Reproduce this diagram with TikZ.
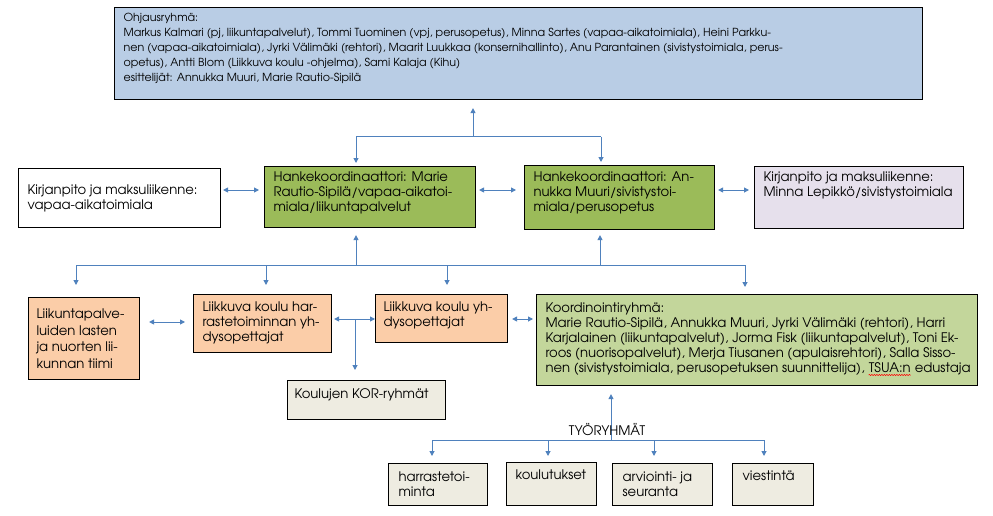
\documentclass[tikz,border=0pt]{standalone}
\usepackage{fontspec}
\setmainfont{texgyreadventor-regular.otf}
\usetikzlibrary{arrows.meta,decorations.pathmorphing}
\definecolor{cTop}{HTML}{B9CDE5}
\definecolor{cGreen}{HTML}{9BBB59}
\definecolor{cLav}{HTML}{E6E0EC}
\definecolor{cOrange}{HTML}{FBCDA8}
\definecolor{cKoord}{HTML}{C3D69B}
\definecolor{cTan}{HTML}{EEECE1}
\definecolor{cLine}{HTML}{4F81BD}
\newcommand\rwave[1]{\tikz[baseline=(w.base),x=1pt,y=1pt]{\node[inner sep=0pt,anchor=base](w){#1};\draw[red,line width=0.5pt,decorate,decoration={snake,amplitude=0.6pt,segment length=2.5pt}] ([yshift=-2.5pt]w.base west) -- ([yshift=-2.5pt]w.base east);}}
\newcommand\bt[5]{\parbox[c][#2pt][t]{#1pt}{\vspace*{#4pt}\raggedright\leftskip=#3pt\rightskip=-40pt plus 1fil\parindent=0pt\hyphenpenalty=10000\strut #5}}
\tikzset{
  box/.style={draw=black, line width=1.1pt, anchor=north west, inner sep=0pt,
    font=\fontsize{13.2}{15}\selectfont},
  ln/.style={draw=cLine, line width=1pt},
  arr/.style={ln, -{Triangle[length=5pt,width=5pt]}},
  darr/.style={ln, {Triangle[length=5pt,width=5pt]}-{Triangle[length=5pt,width=5pt]}}
}
\begin{document}
\begin{tikzpicture}[x=1pt,y=-1pt]
\useasboundingbox[fill=white] (0,0) rectangle (993,516);
% boxes
\node[box, fill=cTop, font=\fontsize{11.1}{15}\selectfont] (top) at (114,7) {\bt{808}{92}{9}{3.5}{Ohjausryhmä:\\
Markus Kalmari (pj, liikuntapalvelut), Tommi Tuominen (vpj, perusopetus), Minna Sartes (vapaa-aikatoimiala), Heini Parkku-\\
nen (vapaa-aikatoimiala), Jyrki Välimäki (rehtori), Maarit Luukkaa (konsernihallinto), Anu Parantainen (sivistystoimiala, perus-\\
opetus), Antti Blom (Liikkuva koulu -ohjelma), Sami Kalaja (Kihu)\\
esittelijät: Annukka Muuri, Marie Rautio-Sipilä}};
\node[box, fill=white] (kirj1) at (18,168) {\bt{202}{59}{9}{15}{Kirjanpito ja maksuliikenne:\\ vapaa-aikatoimiala}};
\node[box, fill=cGreen] (green1) at (264,166) {\bt{211}{61}{9}{4.5}{Hankekoordinaattori: Marie\\ Rautio-Sipilä/vapaa-aikatoi-\\ miala/liikuntapalvelut}};
\node[box, fill=cGreen] (green2) at (524,165) {\bt{190}{64}{9}{5.5}{Hankekoordinaattori: An-\\ nukka Muuri/sivistystoi-\\ miala/perusopetus}};
\node[box, fill=cLav] (lav) at (754,166) {\bt{209}{62}{9}{4.5}{Kirjanpito ja maksuliikenne:\\ Minna Lepikkö/sivistystoimiala}};
\node[box, fill=cOrange, font=\fontsize{13.2}{16.5}\selectfont] (liik) at (28,297) {\bt{111}{82}{8}{9.5}{Liikuntapalve-\\ luiden lasten\\ ja nuorten lii-\\ kunnan tiimi}};
\node[box, fill=cOrange] (har) at (193,294) {\bt{138}{58}{9}{6.5}{Liikkuva koulu har-\\ rastetoiminnan yh-\\ dysopettajat}};
\node[box, fill=cOrange] (yh) at (375,294) {\bt{132}{48}{8}{6.5}{Liikkuva koulu yh-\\ dysopettajat}};
\node[box, fill=cKoord] (koord) at (536,294) {\bt{441}{91}{9}{7.5}{Koordinointiryhmä:\\
Marie Rautio-Sipilä, Annukka Muuri, Jyrki Välimäki (rehtori), Harri\\
Karjalainen (liikuntapalvelut), Jorma Fisk (liikuntapalvelut), Toni Ek-\\
roos (nuorisopalvelut), Merja Tiusanen (apulaisrehtori), Salla Sisso-\\
nen (sivistystoimiala, perusopetuksen suunnittelija), \rwave{TSUA:n} edustaja}};
\node[box, fill=cTan] (kor) at (287,380) {\bt{158}{39}{7}{7.5}{Koulujen KOR-ryhmät}};
\node[box, fill=cTan] (harr) at (388,463) {\bt{99}{42}{10}{7.5}{harrastetoi-\\ minta}};
\node[box, fill=cTan] (koul) at (506,462) {\bt{90}{43}{9}{6.5}{koulutukset}};
\node[box, fill=cTan] (arv) at (612,463) {\bt{100}{42}{10}{7.5}{arviointi- ja\\ seuranta}};
\node[box, fill=cTan] (vies) at (732,463) {\bt{81}{42}{10}{6.5}{viestintä}};
% top connectors
\coordinate (j1) at (473,137);
\coordinate (t1) at (356,137);
\coordinate (t2) at (601,137);
\draw[ln] (t1) -- (t2);
\draw[arr, shorten >=8pt] (j1) -- (j1 |- top.south);
\draw[arr, shorten >=3pt] (t1) -- (t1 |- green1.north);
\draw[arr, shorten >=3pt] (t2) -- (t2 |- green2.north);
% row 2 horizontals
\coordinate (r2) at (0,190);
\draw[darr, shorten <=2pt, shorten >=5pt] (kirj1.east |- r2) -- (green1.west |- r2);
\draw[darr, shorten <=3pt, shorten >=8pt] (green1.east |- r2) -- (green2.west |- r2);
\draw[darr, shorten <=3pt, shorten >=5pt] (green2.east |- r2) -- (lav.west |- r2);
% middle connectors
\coordinate (m1) at (356,265);
\coordinate (m2) at (600,265);
\coordinate (mL) at (76,265);
\coordinate (mR) at (745,265);
\coordinate (mH) at (266,265);
\coordinate (mY) at (447,265);
\draw[ln] (mL) -- (mR);
\draw[arr, shorten >=7pt] (m1) -- (m1 |- green1.south);
\draw[arr, shorten >=5pt] (m2) -- (m2 |- green2.south);
\draw[arr, shorten >=12pt] (mL) -- (mL |- liik.north);
\draw[arr, shorten >=9pt] (mH) -- (mH |- har.north);
\draw[arr, shorten >=9pt] (mY) -- (mY |- yh.north);
\draw[arr, shorten >=7pt] (mR) -- (mR |- koord.north);
% row 3 horizontals
\coordinate (r3a) at (0,322);
\coordinate (r3b) at (0,319);
\draw[darr, shorten <=9pt, shorten >=8pt] (liik.east |- r3a) -- (har.west |- r3a);
\draw[darr, shorten <=2pt] (har.east |- r3b) -- (yh.west |- r3b);
\coordinate (k) at (355,319);
\draw[arr, shorten >=10pt] (k) -- (k |- kor.north);
\draw[darr, shorten <=4pt, shorten >=3pt] (yh.east |- r3b) -- (koord.west |- r3b);
% bottom connectors
\coordinate (b0) at (611,440);
\coordinate (b1) at (432,440);
\coordinate (b2) at (548,440);
\coordinate (b3) at (654,440);
\coordinate (b4) at (764,440);
\draw[ln] (b1) -- (b4);
\draw[arr, shorten >=8pt] (b0) -- (b0 |- koord.south);
\draw[arr, shorten >=7pt] (b1) -- (b1 |- harr.north);
\draw[arr, shorten >=6pt] (b2) -- (b2 |- koul.north);
\draw[arr, shorten >=7pt] (b3) -- (b3 |- arv.north);
\draw[arr, shorten >=7pt] (b4) -- (b4 |- vies.north);
\node[anchor=base, inner sep=0pt, font=\fontsize{13.2}{15}\selectfont] (tyo) at (607,435) {TYÖRYHMÄT};
\end{tikzpicture}
\end{document}
